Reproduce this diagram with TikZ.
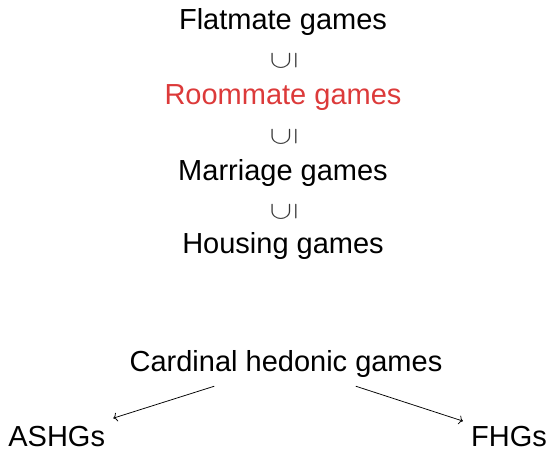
\documentclass[tikz,border=0pt]{standalone}
\usepackage{fontspec}
\setmainfont{Liberation Sans}
\usepackage{graphicx}
\usetikzlibrary{arrows.meta}
\definecolor{redtxt}{RGB}{220,58,58}
\definecolor{symgray}{RGB}{55,55,55}
\begin{document}
\begin{tikzpicture}[x=1pt,y=-1pt,
  lbl/.style={inner sep=0pt,anchor=base,font=\fontsize{29}{31}\selectfont},
  sub/.style={inner sep=0pt,text=symgray,font=\fontsize{34}{36}\selectfont},
  leaf/.style={inner sep=8pt,font=\fontsize{29}{31}\selectfont},
  conn/.style={-{To[length=4pt,width=9pt]},line width=0.75pt}]
\useasboundingbox (0,0) rectangle (549,449);
\node[lbl] (flat) at (283,29.5) {Flatmate games};
\node[sub] (s1) at (284,60.5) {\scalebox{1.3}[1]{\rotatebox{90}{$\subseteq$}}};
\node[lbl,text=redtxt] (room) at (283,104.5) {Roommate games};
\node[sub] (s2) at (284,136.5) {\scalebox{1.3}[1]{\rotatebox{90}{$\subseteq$}}};
\node[lbl] (marr) at (283,180.5) {Marriage games};
\node[sub] (s3) at (284,212) {\scalebox{1.3}[1]{\rotatebox{90}{$\subseteq$}}};
\node[lbl] (hous) at (283,254) {Housing games};
\node[leaf,inner sep=9pt,anchor=base] (card) at (286,371) {Cardinal hedonic games};
\node[leaf,anchor=base] (ashg) at (56.7,446) {ASHGs};
\node[leaf,anchor=base] (fhg) at (509,446) {FHGs};
\draw[conn] (card) -- (ashg);
\draw[conn] (card) -- (fhg);
\end{tikzpicture}
\end{document}
